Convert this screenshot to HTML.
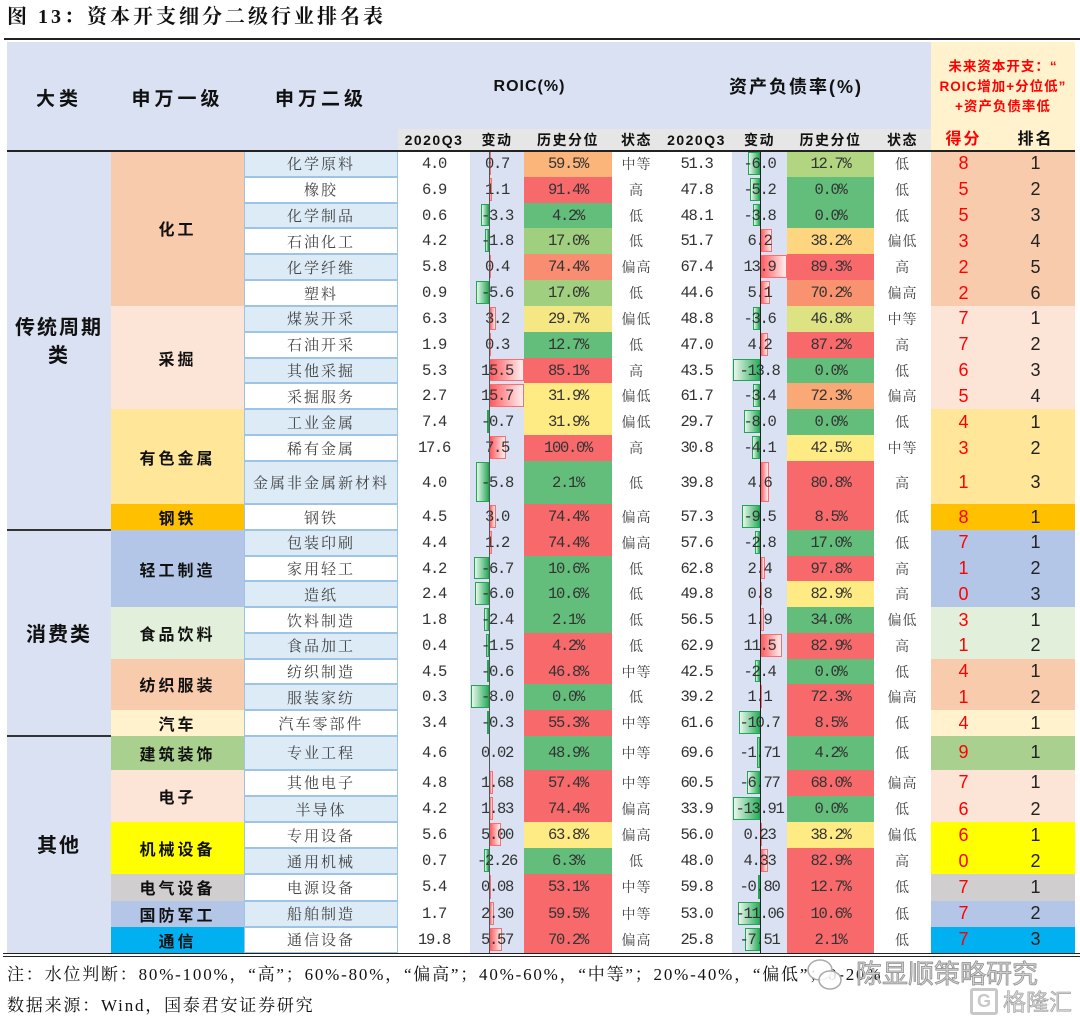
<!DOCTYPE html>
<html><head><meta charset="utf-8">
<style>
*{margin:0;padding:0;box-sizing:border-box}
body{width:1080px;height:1025px;position:relative;background:#fff;overflow:hidden;font-family:"Liberation Sans","Noto Sans CJK SC",sans-serif}
.a{position:absolute}
table{position:absolute;left:7px;top:151px;width:1068px;border-collapse:collapse;table-layout:fixed}
td{padding:0;text-align:center;vertical-align:middle;white-space:nowrap;line-height:18px;overflow:visible}
.h1{height:25.83px}.h2{height:25.75px}.h3{height:26.14px}
.dl{background:#d9e1f2;font:bold 20px "Noto Sans CJK SC",sans-serif;letter-spacing:2px;line-height:28px;color:#111}
.yj{font:bold 16px "Noto Sans CJK SC",sans-serif;letter-spacing:3px;color:#111}
.ej{font:15px "Noto Serif CJK SC",serif;letter-spacing:2px;color:#444;box-shadow:inset 0 0 0 1px #9dc3e6}
.b{background:#ddebf7}
.n{font:15.5px "Liberation Mono",monospace;letter-spacing:-1.3px;color:#333}
.v{background:#d9e1f2;position:relative}
.v span{position:relative}
.v i{position:absolute;top:1px;bottom:2px;box-sizing:border-box}
.p{background:linear-gradient(to right,#ff5a5f,#fff0f0);border:1px solid #ff6b6e}
.m{background:linear-gradient(to left,#2fae5e,#e8f6ec);border:1px solid #22a455}
.r .p{left:19px}.r .m{right:35px}
.d .p{left:28px}.d .m{right:27px}
.s{font:14px "Noto Serif CJK SC",serif;letter-spacing:1px;color:#444}
.sc{font:18px "Liberation Sans",sans-serif;color:#f00}
.rk{font:18px "Liberation Sans",sans-serif;color:#222}
.G{background:#63be7b}.R{background:#f8696b}.Y{background:#ffeb84}
.g1{background:#f8cbad}.g2{background:#fce4d6}.g3{background:#ffe699}.g4{background:#ffc000}
.g5{background:#b4c6e7}.g6{background:#e2efda}.g7{background:#fff2cc}.g8{background:#a9d08e}
.g9{background:#ffff00}.g10{background:#d0cece}.g11{background:#00b0f0}
.hd{font:bold 19px "Noto Sans CJK SC",sans-serif;letter-spacing:4px;text-align:center;line-height:24px;color:#111}
.sh{top:130px;font:bold 14px "Liberation Sans","Noto Sans CJK SC",sans-serif;letter-spacing:1.5px;text-align:center;line-height:20px;color:#111}
</style></head><body>

<div class="a" style="left:7px;top:4px;font:bold 20px 'Liberation Serif','Noto Serif CJK SC',serif;letter-spacing:3px;line-height:26px;color:#111">图 13：资本开支细分二级行业排名表</div>
<div class="a" style="left:4px;top:38px;width:1076px;height:2px;background:#222"></div>

<!-- header backgrounds -->
<div class="a" style="left:7px;top:42px;width:924px;height:109px;background:#d9e1f2"></div>
<div class="a" style="left:398px;top:129px;width:533px;height:21px;background:#e7e6e6"></div>
<div class="a" style="left:931px;top:42px;width:144px;height:109px;background:#fff2cc"></div>

<div class="a hd" style="left:7px;top:86px;width:104px">大类</div>
<div class="a hd" style="left:111px;top:86px;width:133px">申万一级</div>
<div class="a hd" style="left:244px;top:86px;width:154px">申万二级</div>
<div class="a" style="left:398px;top:75px;width:263px;text-align:center;font:bold 16px 'Liberation Sans',sans-serif;letter-spacing:1px;line-height:24px;color:#111">ROIC(%)</div>
<div class="a" style="left:661px;top:75px;width:270px;text-align:center;font:bold 18px 'Liberation Sans','Noto Sans CJK SC',sans-serif;letter-spacing:2px;line-height:24px;color:#111">资产负债率(%)</div>
<div class="a" style="left:931px;top:57px;width:144px;text-align:center;font:bold 13.5px 'Liberation Sans','Noto Sans CJK SC',sans-serif;letter-spacing:1px;line-height:20px;color:#f00">未来资本开支：“<br>ROIC增加+分位低”<br>+资产负债率低</div>

<div class="a sh" style="left:398px;width:72px">2020Q3</div>
<div class="a sh" style="left:470px;width:54px">变动</div>
<div class="a sh" style="left:524px;width:88px">历史分位</div>
<div class="a sh" style="left:612px;width:49px">状态</div>
<div class="a sh" style="left:661px;width:71px">2020Q3</div>
<div class="a sh" style="left:732px;width:55px">变动</div>
<div class="a sh" style="left:787px;width:87px">历史分位</div>
<div class="a sh" style="left:874px;width:57px">状态</div>
<div class="a sh" style="left:931px;width:65px;font-size:16px;letter-spacing:2px;color:#f00">得分</div>
<div class="a sh" style="left:996px;width:79px;font-size:16px;letter-spacing:2px">排名</div>

<table>
<colgroup><col style="width:104px"><col style="width:133px"><col style="width:154px"><col style="width:72px"><col style="width:54px"><col style="width:88px"><col style="width:49px"><col style="width:71px"><col style="width:55px"><col style="width:87px"><col style="width:57px"><col style="width:65px"><col style="width:79px"></colgroup>

<tr class="h1"><td class="dl" rowspan="14">传统周期<br>类</td><td class="yj g1" rowspan="6">化工</td><td class="ej b">化学原料</td><td class="n">4.0</td><td class="n v r"><i class="p" style="width:1.6px"></i><span>0.7</span></td><td class="n" style="background:#fbb479">59.5%</td><td class="s">中等</td><td class="n">51.3</td><td class="n v d"><i class="m" style="width:11.7px"></i><span>-6.0</span></td><td class="n" style="background:#b1d580">12.7%</td><td class="s">低</td><td class="sc g1">8</td><td class="rk g1">1</td></tr>

<tr class="h1"><td class="ej">橡胶</td><td class="n">6.9</td><td class="n v r"><i class="p" style="width:2.5px"></i><span>1.1</span></td><td class="n R">91.4%</td><td class="s">高</td><td class="n">47.8</td><td class="n v d"><i class="m" style="width:10.1px"></i><span>-5.2</span></td><td class="n G">0.0%</td><td class="s">低</td><td class="sc g1">5</td><td class="rk g1">2</td></tr>

<tr class="h1"><td class="ej b">化学制品</td><td class="n">0.6</td><td class="n v r"><i class="m" style="width:7.6px"></i><span>-3.3</span></td><td class="n G">4.2%</td><td class="s">低</td><td class="n">48.1</td><td class="n v d"><i class="m" style="width:7.4px"></i><span>-3.8</span></td><td class="n G">0.0%</td><td class="s">低</td><td class="sc g1">5</td><td class="rk g1">3</td></tr>

<tr class="h1"><td class="ej">石油化工</td><td class="n">4.2</td><td class="n v r"><i class="m" style="width:4.1px"></i><span>-1.8</span></td><td class="n" style="background:#9fcf7f">17.0%</td><td class="s">低</td><td class="n">51.7</td><td class="n v d"><i class="p" style="width:12.1px"></i><span>6.2</span></td><td class="n" style="background:#fed680">38.2%</td><td class="s">偏低</td><td class="sc g1">3</td><td class="rk g1">4</td></tr>

<tr class="h1"><td class="ej b">化学纤维</td><td class="n">5.8</td><td class="n v r"><i class="p" style="width:0.9px"></i><span>0.4</span></td><td class="n" style="background:#f98d71">74.4%</td><td class="s">偏高</td><td class="n">67.4</td><td class="n v d"><i class="p" style="width:27px"></i><span>13.9</span></td><td class="n R">89.3%</td><td class="s">高</td><td class="sc g1">2</td><td class="rk g1">5</td></tr>

<tr class="h1"><td class="ej">塑料</td><td class="n">0.9</td><td class="n v r"><i class="m" style="width:12.9px"></i><span>-5.6</span></td><td class="n" style="background:#9fcf7f">17.0%</td><td class="s">低</td><td class="n">44.6</td><td class="n v d"><i class="p" style="width:9.9px"></i><span>5.1</span></td><td class="n" style="background:#f9926f">70.2%</td><td class="s">偏高</td><td class="sc g1">2</td><td class="rk g1">6</td></tr>

<tr class="h1"><td class="yj g2" rowspan="4">采掘</td><td class="ej b">煤炭开采</td><td class="n">6.3</td><td class="n v r"><i class="p" style="width:7.4px"></i><span>3.2</span></td><td class="n" style="background:#f5e884">29.7%</td><td class="s">偏低</td><td class="n">48.8</td><td class="n v d"><i class="m" style="width:7px"></i><span>-3.6</span></td><td class="n" style="background:#dde283">46.8%</td><td class="s">中等</td><td class="sc g2">7</td><td class="rk g2">1</td></tr>

<tr class="h1"><td class="ej">石油开采</td><td class="n">1.9</td><td class="n v r"><i class="p" style="width:0.7px"></i><span>0.3</span></td><td class="n G">12.7%</td><td class="s">低</td><td class="n">47.0</td><td class="n v d"><i class="p" style="width:8.2px"></i><span>4.2</span></td><td class="n R">87.2%</td><td class="s">高</td><td class="sc g2">7</td><td class="rk g2">2</td></tr>

<tr class="h1"><td class="ej b">其他采掘</td><td class="n">5.3</td><td class="n v r"><i class="p" style="width:35px"></i><span>15.5</span></td><td class="n R">85.1%</td><td class="s">高</td><td class="n">43.5</td><td class="n v d"><i class="m" style="width:26.9px"></i><span>-13.8</span></td><td class="n G">0.0%</td><td class="s">低</td><td class="sc g2">6</td><td class="rk g2">3</td></tr>

<tr class="h1"><td class="ej">采掘服务</td><td class="n">2.7</td><td class="n v r"><i class="p" style="width:35px"></i><span>15.7</span></td><td class="n Y">31.9%</td><td class="s">偏低</td><td class="n">61.7</td><td class="n v d"><i class="m" style="width:6.6px"></i><span>-3.4</span></td><td class="n" style="background:#faa875">72.3%</td><td class="s">偏高</td><td class="sc g2">5</td><td class="rk g2">4</td></tr>

<tr class="h1"><td class="yj g3" rowspan="3">有色金属</td><td class="ej b">工业金属</td><td class="n">7.4</td><td class="n v r"><i class="m" style="width:1.6px"></i><span>-0.7</span></td><td class="n Y">31.9%</td><td class="s">偏低</td><td class="n">29.7</td><td class="n v d"><i class="m" style="width:15.6px"></i><span>-8.0</span></td><td class="n G">0.0%</td><td class="s">低</td><td class="sc g3">4</td><td class="rk g3">1</td></tr>

<tr class="h1"><td class="ej">稀有金属</td><td class="n">17.6</td><td class="n v r"><i class="p" style="width:17.3px"></i><span>7.5</span></td><td class="n R">100.0%</td><td class="s">高</td><td class="n">30.8</td><td class="n v d"><i class="m" style="width:8px"></i><span>-4.1</span></td><td class="n Y">42.5%</td><td class="s">中等</td><td class="sc g3">3</td><td class="rk g3">2</td></tr>

<tr style="height:43.3px"><td class="ej b">金属非金属新材料</td><td class="n">4.0</td><td class="n v r"><i class="m" style="width:13.3px"></i><span>-5.8</span></td><td class="n G">2.1%</td><td class="s">低</td><td class="n">39.8</td><td class="n v d"><i class="p" style="width:9px"></i><span>4.6</span></td><td class="n R">80.8%</td><td class="s">高</td><td class="sc g3">1</td><td class="rk g3">3</td></tr>

<tr style="height:25.7px"><td class="yj g4">钢铁</td><td class="ej">钢铁</td><td class="n">4.5</td><td class="n v r"><i class="p" style="width:6.9px"></i><span>3.0</span></td><td class="n R">74.4%</td><td class="s">偏高</td><td class="n">57.3</td><td class="n v d"><i class="m" style="width:18.5px"></i><span>-9.5</span></td><td class="n R">8.5%</td><td class="s">低</td><td class="sc g4">8</td><td class="rk g4">1</td></tr>

<tr class="h2"><td class="dl" rowspan="8">消费类</td><td class="yj g5" rowspan="3">轻工制造</td><td class="ej b">包装印刷</td><td class="n">4.4</td><td class="n v r"><i class="p" style="width:2.8px"></i><span>1.2</span></td><td class="n R">74.4%</td><td class="s">偏高</td><td class="n">57.6</td><td class="n v d"><i class="m" style="width:5.5px"></i><span>-2.8</span></td><td class="n G">17.0%</td><td class="s">低</td><td class="sc g5">7</td><td class="rk g5">1</td></tr>

<tr class="h2"><td class="ej">家用轻工</td><td class="n">4.2</td><td class="n v r"><i class="m" style="width:15.4px"></i><span>-6.7</span></td><td class="n G">10.6%</td><td class="s">低</td><td class="n">62.8</td><td class="n v d"><i class="p" style="width:4.7px"></i><span>2.4</span></td><td class="n R">97.8%</td><td class="s">高</td><td class="sc g5">1</td><td class="rk g5">2</td></tr>

<tr class="h2"><td class="ej b">造纸</td><td class="n">2.4</td><td class="n v r"><i class="m" style="width:13.8px"></i><span>-6.0</span></td><td class="n G">10.6%</td><td class="s">低</td><td class="n">49.8</td><td class="n v d"><i class="p" style="width:1.6px"></i><span>0.8</span></td><td class="n Y">82.9%</td><td class="s">高</td><td class="sc g5">0</td><td class="rk g5">3</td></tr>

<tr class="h2"><td class="yj g6" rowspan="2">食品饮料</td><td class="ej">饮料制造</td><td class="n">1.8</td><td class="n v r"><i class="m" style="width:5.5px"></i><span>-2.4</span></td><td class="n G">2.1%</td><td class="s">低</td><td class="n">56.5</td><td class="n v d"><i class="p" style="width:3.7px"></i><span>1.9</span></td><td class="n G">34.0%</td><td class="s">偏低</td><td class="sc g6">3</td><td class="rk g6">1</td></tr>

<tr class="h2"><td class="ej b">食品加工</td><td class="n">0.4</td><td class="n v r"><i class="m" style="width:3.5px"></i><span>-1.5</span></td><td class="n R">4.2%</td><td class="s">低</td><td class="n">62.9</td><td class="n v d"><i class="p" style="width:22.4px"></i><span>11.5</span></td><td class="n R">82.9%</td><td class="s">高</td><td class="sc g6">1</td><td class="rk g6">2</td></tr>

<tr class="h2"><td class="yj g1" rowspan="2">纺织服装</td><td class="ej">纺织制造</td><td class="n">4.5</td><td class="n v r"><i class="m" style="width:1.4px"></i><span>-0.6</span></td><td class="n R">46.8%</td><td class="s">中等</td><td class="n">42.5</td><td class="n v d"><i class="m" style="width:4.7px"></i><span>-2.4</span></td><td class="n G">0.0%</td><td class="s">低</td><td class="sc g1">4</td><td class="rk g1">1</td></tr>

<tr class="h2"><td class="ej b">服装家纺</td><td class="n">0.3</td><td class="n v r"><i class="m" style="width:18.4px"></i><span>-8.0</span></td><td class="n G">0.0%</td><td class="s">低</td><td class="n">39.2</td><td class="n v d"><i class="p" style="width:2.1px"></i><span>1.1</span></td><td class="n R">72.3%</td><td class="s">偏高</td><td class="sc g1">1</td><td class="rk g1">2</td></tr>

<tr class="h2"><td class="yj g7">汽车</td><td class="ej">汽车零部件</td><td class="n">3.4</td><td class="n v r"><i class="m" style="width:0.7px"></i><span>-0.3</span></td><td class="n R">55.3%</td><td class="s">中等</td><td class="n">61.6</td><td class="n v d"><i class="m" style="width:20.9px"></i><span>-10.7</span></td><td class="n R">8.5%</td><td class="s">低</td><td class="sc g7">4</td><td class="rk g7">1</td></tr>

<tr style="height:34px"><td class="dl" rowspan="8">其他</td><td class="yj g8">建筑装饰</td><td class="ej b">专业工程</td><td class="n">4.6</td><td class="n v r"><span>0.02</span></td><td class="n G">48.9%</td><td class="s">中等</td><td class="n">69.6</td><td class="n v d"><i class="m" style="width:3.3px"></i><span>-1.71</span></td><td class="n G">4.2%</td><td class="s">低</td><td class="sc g8">9</td><td class="rk g8">1</td></tr>

<tr class="h3"><td class="yj g2" rowspan="2">电子</td><td class="ej">其他电子</td><td class="n">4.8</td><td class="n v r"><i class="p" style="width:3.9px"></i><span>1.68</span></td><td class="n R">57.4%</td><td class="s">中等</td><td class="n">60.5</td><td class="n v d"><i class="m" style="width:13.2px"></i><span>-6.77</span></td><td class="n R">68.0%</td><td class="s">偏高</td><td class="sc g2">7</td><td class="rk g2">1</td></tr>

<tr class="h3"><td class="ej b">半导体</td><td class="n">4.2</td><td class="n v r"><i class="p" style="width:4.2px"></i><span>1.83</span></td><td class="n R">74.4%</td><td class="s">偏高</td><td class="n">33.9</td><td class="n v d"><i class="m" style="width:27.1px"></i><span>-13.91</span></td><td class="n G">0.0%</td><td class="s">低</td><td class="sc g2">6</td><td class="rk g2">2</td></tr>

<tr class="h3"><td class="yj g9" rowspan="2">机械设备</td><td class="ej">专用设备</td><td class="n">5.6</td><td class="n v r"><i class="p" style="width:11.5px"></i><span>5.00</span></td><td class="n Y">63.8%</td><td class="s">偏高</td><td class="n">56.0</td><td class="n v d"><i class="p" style="width:0.5px"></i><span>0.23</span></td><td class="n Y">38.2%</td><td class="s">偏低</td><td class="sc g9">6</td><td class="rk g9">1</td></tr>

<tr class="h3"><td class="ej b">通用机械</td><td class="n">0.7</td><td class="n v r"><i class="m" style="width:5.2px"></i><span>-2.26</span></td><td class="n G">6.3%</td><td class="s">低</td><td class="n">48.0</td><td class="n v d"><i class="p" style="width:8.4px"></i><span>4.33</span></td><td class="n R">82.9%</td><td class="s">高</td><td class="sc g9">0</td><td class="rk g9">2</td></tr>

<tr class="h3"><td class="yj g10">电气设备</td><td class="ej">电源设备</td><td class="n">5.4</td><td class="n v r"><i class="p" style="width:0.3px"></i><span>0.08</span></td><td class="n R">53.1%</td><td class="s">中等</td><td class="n">59.8</td><td class="n v d"><i class="m" style="width:1.6px"></i><span>-0.80</span></td><td class="n R">12.7%</td><td class="s">低</td><td class="sc g10">7</td><td class="rk g10">1</td></tr>

<tr class="h3"><td class="yj g5">国防军工</td><td class="ej b">船舶制造</td><td class="n">1.7</td><td class="n v r"><i class="p" style="width:5.3px"></i><span>2.30</span></td><td class="n R">59.5%</td><td class="s">中等</td><td class="n">53.0</td><td class="n v d"><i class="m" style="width:21.6px"></i><span>-11.06</span></td><td class="n R">10.6%</td><td class="s">低</td><td class="sc g5">7</td><td class="rk g5">2</td></tr>

<tr class="h3"><td class="yj g11">通信</td><td class="ej">通信设备</td><td class="n">19.8</td><td class="n v r"><i class="p" style="width:12.8px"></i><span>5.57</span></td><td class="n R">70.2%</td><td class="s">偏高</td><td class="n">25.8</td><td class="n v d"><i class="m" style="width:14.6px"></i><span>-7.51</span></td><td class="n R">2.1%</td><td class="s">低</td><td class="sc g11">7</td><td class="rk g11">3</td></tr>
</table>

<!-- lines -->
<div class="a" style="left:7px;top:150px;width:1068px;height:2px;background:#222"></div>
<div class="a" style="left:7px;top:529px;width:104px;height:2px;background:#333"></div>
<div class="a" style="left:7px;top:735px;width:104px;height:2px;background:#333"></div>
<div class="a" style="left:488.5px;top:152px;width:1px;height:801px;background:#555"></div>
<div class="a" style="left:759.5px;top:152px;width:1.5px;height:801px;background:#222"></div>
<div class="a" style="left:3px;top:953px;width:1077px;height:1.3px;background:#222"></div>
<div class="a" style="left:3px;top:956px;width:1077px;height:1.3px;background:#222"></div>

<!-- notes -->
<div class="a" style="left:7px;top:964px;font:17px 'Liberation Serif','Noto Serif CJK SC',serif;letter-spacing:1.8px;line-height:22px;color:#111;white-space:nowrap">注：水位判断：80%-100%，“高”；60%-80%，“偏高”；40%-60%，“中等”；20%-40%，“偏低”；0-20%</div>
<div class="a" style="left:7px;top:995px;font:17px 'Liberation Serif','Noto Serif CJK SC',serif;letter-spacing:1.8px;line-height:22px;color:#111;white-space:nowrap">数据来源：Wind，国泰君安证券研究</div>

<!-- watermark -->
<svg class="a" style="left:804px;top:955px" width="42" height="42"><g fill="#fff" fill-opacity="0.85" stroke="#aaa" stroke-width="1.5"><ellipse cx="16" cy="15" rx="12" ry="10"/><ellipse cx="26" cy="25" rx="11" ry="9"/></g></svg>
<div class="a" style="left:856px;top:955px;font:26px 'Noto Sans CJK SC',sans-serif;color:#d2d2d2;-webkit-text-stroke:0.7px #8a8a8a;line-height:36px;white-space:nowrap">陈显顺策略研究</div>
<div class="a" style="left:970px;top:988px;width:28px;height:27px;border:3px solid #c8c8c8;border-radius:3px;font:bold 18px 'Liberation Sans',sans-serif;color:#c8c8c8;text-align:center;line-height:21px">G</div>
<div class="a" style="left:1003px;top:983px;font:23px 'Noto Sans CJK SC',sans-serif;color:#d8d8d8;-webkit-text-stroke:0.6px #999;line-height:34px;white-space:nowrap">格隆汇</div>
</body></html>
